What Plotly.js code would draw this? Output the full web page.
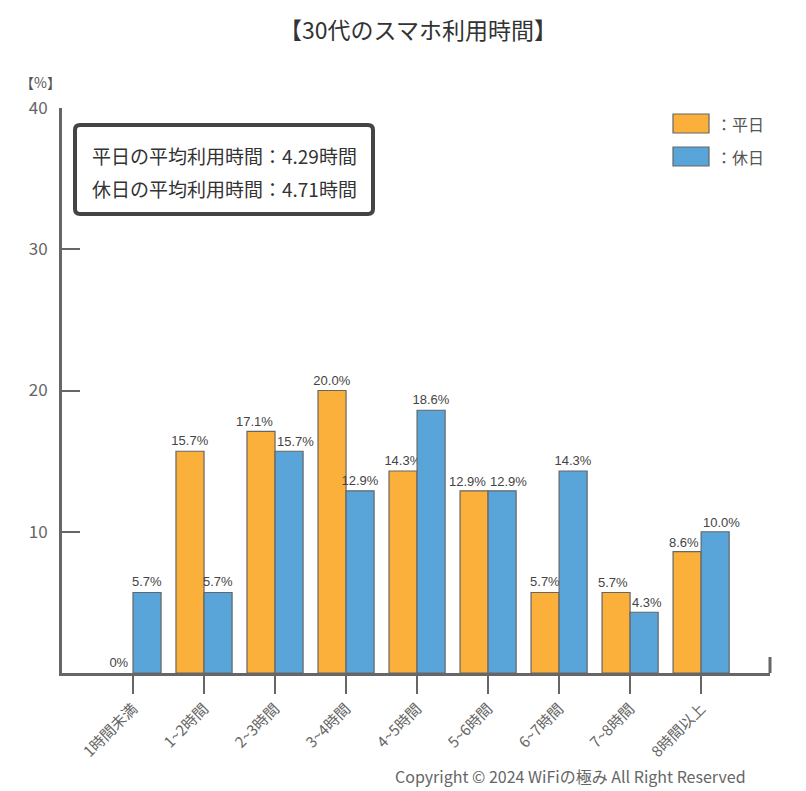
<!DOCTYPE html>
<html><head><meta charset="utf-8">
<script src="https://cdn.plot.ly/plotly-3.0.1.min.js"></script>
<style>html,body{margin:0;padding:0;background:#fff}#chart{width:806px;height:791px}</style>
</head><body><div id="chart"></div>
<script>
var categories = ["1時間未満","1~2時間","2~3時間","3~4時間","4~5時間","5~6時間","6~7時間","7~8時間","8時間以上"];
var weekday = [0, 15.7, 17.1, 20.0, 14.3, 12.9, 5.7, 5.7, 8.6];
var holiday = [5.7, 5.7, 15.7, 12.9, 18.6, 12.9, 14.3, 4.3, 10.0];
var yTicks = [10, 20, 30, 40];
var seriesNames = ["平日", "休日"];
var avgLines = ["平日の平均利用時間：4.29時間", "休日の平均利用時間：4.71時間"];

var FONT = "'Noto Sans CJK JP', 'Noto Sans', sans-serif";
var LFONT = "'Liberation Sans', Arial, sans-serif";
function lbl(v){ return v === 0 ? "0%" : v.toFixed(1) + "%"; }
function lw(v){ return v === 0 ? 0 : 1.2; }
// where the two labels of a group would collide, they are drawn as annotations pushed apart
function collide(i){ return Math.abs(weekday[i] - holiday[i]) < 1.5 && weekday[i] > 0; }
function txt(arr){ return arr.map(function(v, i){ return collide(i) ? "" : lbl(v); }); }

var common = {
  type: "bar", x: categories, textposition: "outside", cliponaxis: false, constraintext: "none",
  textfont: {family: LFONT, size: 13, color: "#444"}, hoverinfo: "none"
};
var t1 = Object.assign({}, common, {name: seriesNames[0], y: weekday, text: txt(weekday),
  marker: {color: "#FBB03B", line: {color: "#666", width: weekday.map(lw)}}});
var t2 = Object.assign({}, common, {name: seriesNames[1], y: holiday, text: txt(holiday),
  marker: {color: "#59A5DA", line: {color: "#666", width: holiday.map(lw)}}});

var W = 708, H = 565;
function px(x){ return (x - 62) / W; }
function py(y){ return (673 - y) / H; }
var bx0 = px(75), bx1 = px(373), by0 = py(214), by1 = py(125), rx = 5 / W, ry = 5 / H;
var boxPath = "M " + (bx0 + rx) + " " + by1 + " L " + (bx1 - rx) + " " + by1 +
  " Q " + bx1 + " " + by1 + " " + bx1 + " " + (by1 - ry) +
  " L " + bx1 + " " + (by0 + ry) + " Q " + bx1 + " " + by0 + " " + (bx1 - rx) + " " + by0 +
  " L " + (bx0 + rx) + " " + by0 + " Q " + bx0 + " " + by0 + " " + bx0 + " " + (by0 + ry) +
  " L " + bx0 + " " + (by1 - ry) + " Q " + bx0 + " " + by1 + " " + (bx0 + rx) + " " + by1 + " Z";

var annotations = [
  {xref: "paper", yref: "paper", x: px(40), y: py(82), text: "【%】", showarrow: false,
    xanchor: "center", yanchor: "middle", font: {family: FONT, size: 14, color: "#555"}},
  {xref: "paper", yref: "paper", x: px(90), y: py(155), text: avgLines[0], showarrow: false,
    xanchor: "left", yanchor: "middle", font: {family: FONT, size: 19, color: "#333"}},
  {xref: "paper", yref: "paper", x: px(90), y: py(188), text: avgLines[1], showarrow: false,
    xanchor: "left", yanchor: "middle", font: {family: FONT, size: 19, color: "#333"}},
  {xref: "paper", yref: "paper", x: px(714), y: py(124), text: "：" + seriesNames[0], showarrow: false,
    xanchor: "left", yanchor: "middle", font: {family: FONT, size: 16, color: "#555"}},
  {xref: "paper", yref: "paper", x: px(714), y: py(157), text: "：" + seriesNames[1], showarrow: false,
    xanchor: "left", yanchor: "middle", font: {family: FONT, size: 16, color: "#555"}},
  {xref: "paper", yref: "paper", x: px(748), y: py(776), text: "Copyright © 2024 WiFiの極み All Right Reserved",
    showarrow: false, xanchor: "right", yanchor: "middle", font: {family: FONT, size: 16, color: "#666"}}
];
categories.forEach(function(c, i){
  if (!collide(i)) return;
  annotations.push({x: c, y: weekday[i], xref: "x", yref: "y", text: lbl(weekday[i]), showarrow: false,
    xanchor: "right", yanchor: "bottom", xshift: -1, yshift: 1, borderpad: 0,
    font: {family: LFONT, size: 13, color: "#444"}});
  annotations.push({x: c, y: holiday[i], xref: "x", yref: "y", text: lbl(holiday[i]), showarrow: false,
    xanchor: "left", yanchor: "bottom", xshift: 1, yshift: 1, borderpad: 0,
    font: {family: LFONT, size: 13, color: "#444"}});
});

var layout = {
  width: 806, height: 791,
  margin: {l: 62, r: 36, t: 108, b: 118},
  paper_bgcolor: "#fff", plot_bgcolor: "#fff",
  font: {family: FONT, color: "#666"},
  showlegend: false,
  barmode: "group", bargap: 0.21, bargroupgap: 0,
  title: {text: "【30代のスマホ利用時間】", font: {family: FONT, size: 23, color: "#333", weight: 400},
    x: px(418), xref: "paper", xanchor: "center", y: 1 - 31 / 791, yref: "container", yanchor: "middle"},
  xaxis: {type: "category", range: [-1, 8.97], showline: true, linewidth: 3, linecolor: "#666",
    ticks: "outside", ticklen: 18, tickwidth: 2, tickcolor: "#666", tickangle: -45,
    tickfont: {family: FONT, size: 15, color: "#666"}, showgrid: false, zeroline: false, fixedrange: true},
  yaxis: {range: [0, 40], showline: true, linewidth: 3, linecolor: "#666",
    ticks: "inside", ticklen: 18, tickwidth: 2, tickcolor: "#666", tickvals: yTicks,
    ticktext: yTicks.map(String), ticklabelstandoff: 8,
    tickfont: {family: FONT, size: 17, color: "#666"}, showgrid: false, zeroline: false, fixedrange: true},
  shapes: [
    {type: "line", xref: "paper", yref: "paper", x0: 1, x1: 1, y0: 0, y1: 16 / H, line: {color: "#666", width: 3}},
    {type: "path", xref: "paper", yref: "paper", path: boxPath, line: {color: "#444", width: 4}, fillcolor: "#fff"},
    {type: "rect", xref: "paper", yref: "paper", x0: px(673), x1: px(709), y0: py(133), y1: py(114),
      fillcolor: "#FBB03B", line: {color: "#666", width: 1.2}},
    {type: "rect", xref: "paper", yref: "paper", x0: px(673), x1: px(709), y0: py(166), y1: py(147),
      fillcolor: "#59A5DA", line: {color: "#666", width: 1.2}}
  ],
  annotations: annotations
};
Plotly.newPlot("chart", [t1, t2], layout, {staticPlot: true, displayModeBar: false});
</script></body></html>
